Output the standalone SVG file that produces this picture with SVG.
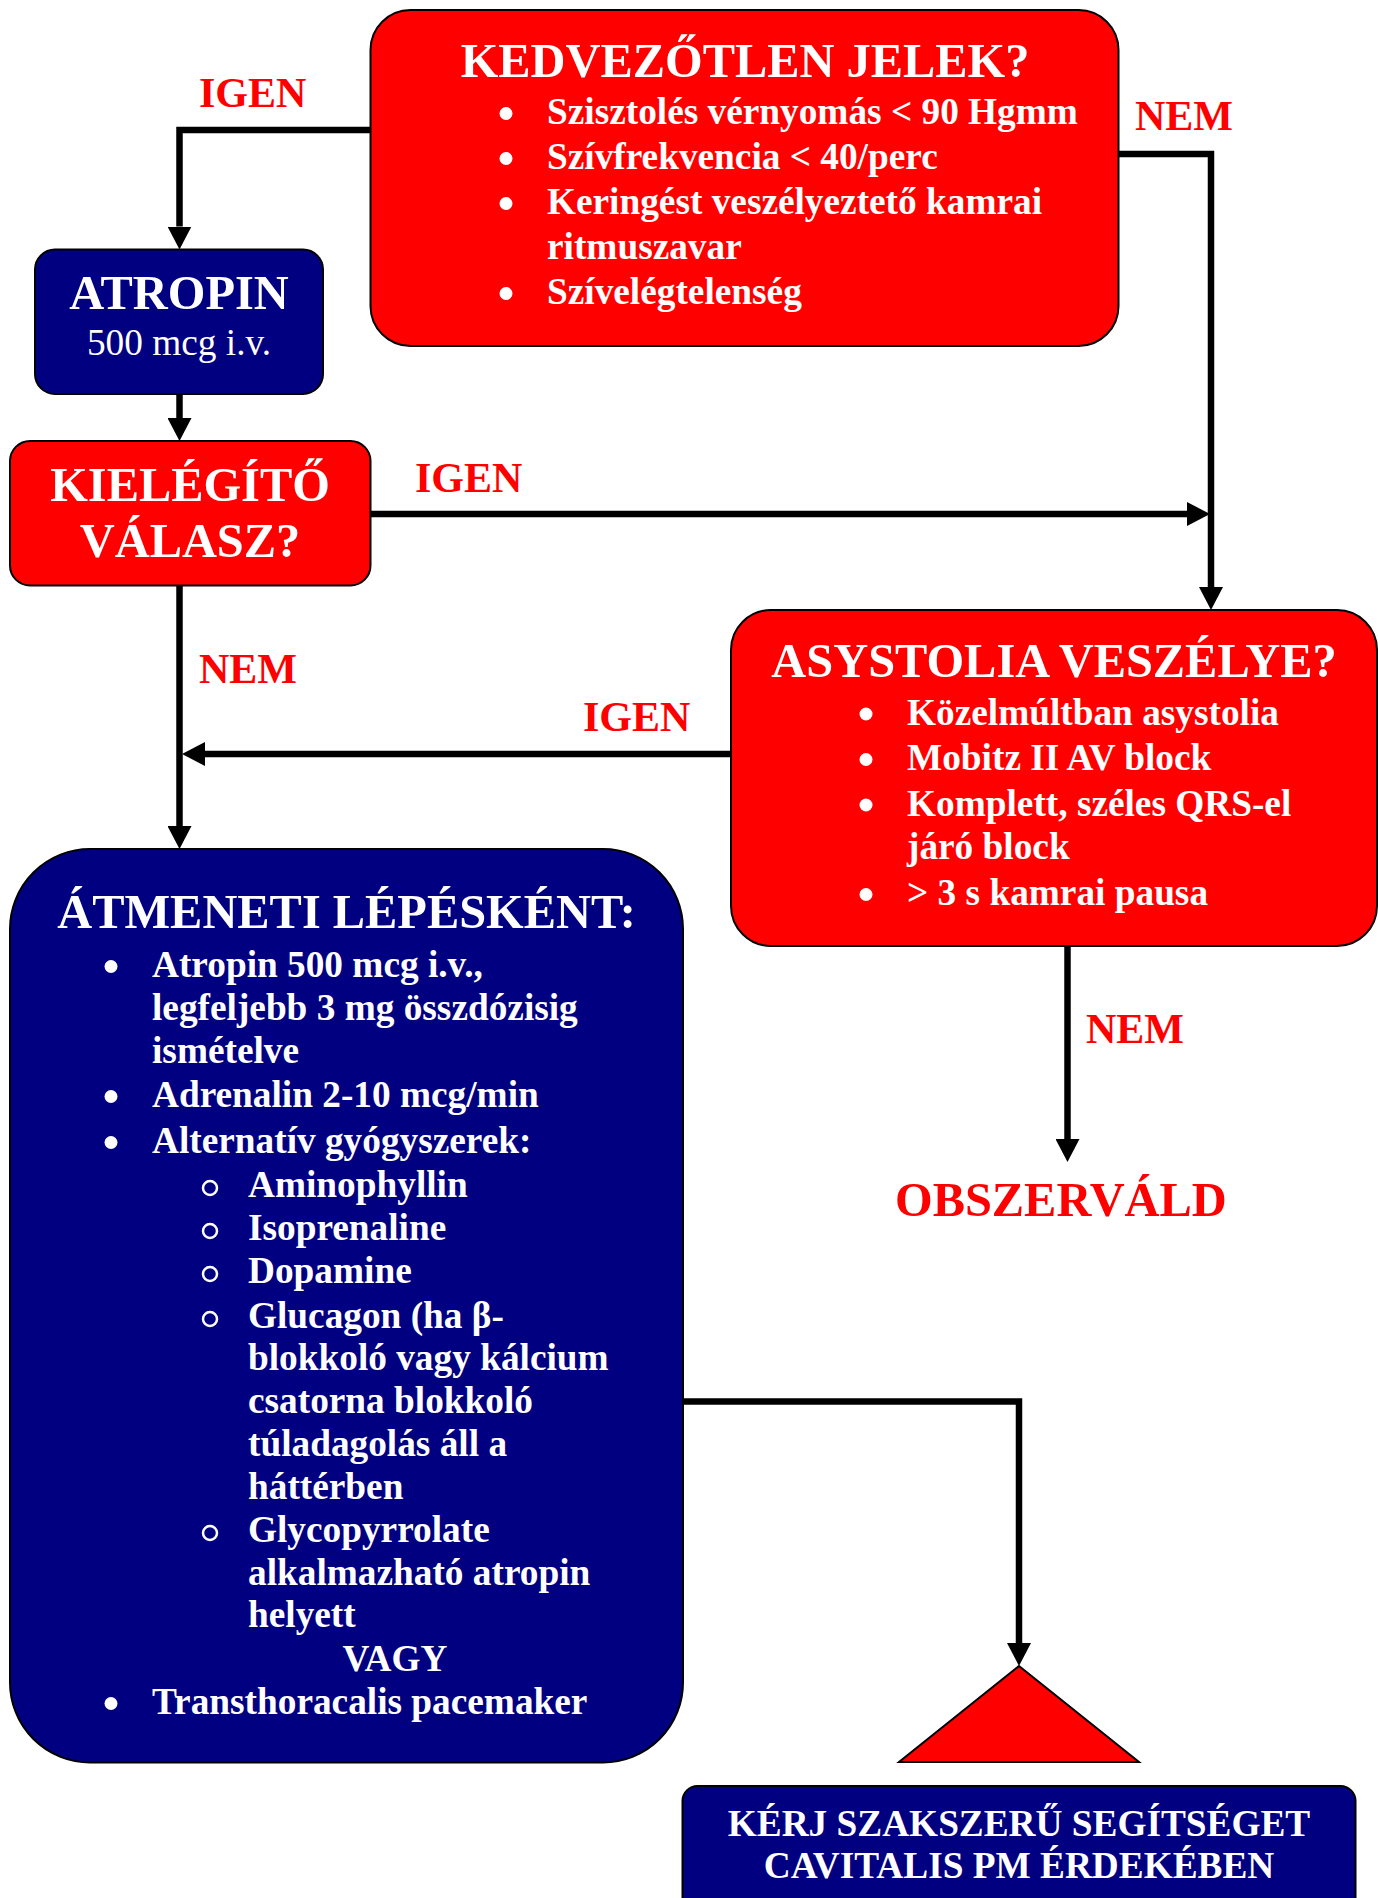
<svg xmlns="http://www.w3.org/2000/svg" width="1378" height="1898" viewBox="0 0 1378 1898">
<style>
.red{fill:#FF0000;stroke:#000;stroke-width:2}
.blue{fill:#000080;stroke:#000;stroke-width:2}
.t{font-family:"Liberation Serif","Times New Roman",serif;font-weight:bold;fill:#fff}
.h{font-size:48.4px;text-anchor:middle}
.b{font-size:37.3px}
.lbl{font-family:"Liberation Serif","Times New Roman",serif;font-weight:bold;fill:#FF0000;font-size:42px}
.dot{fill:#fff}
.odot{fill:none;stroke:#fff;stroke-width:2.5}
.con{fill:none;stroke:#000;stroke-width:6.5;stroke-linejoin:miter;marker-end:url(#ah)}
</style>
<defs>
<marker id="ah" markerUnits="userSpaceOnUse" markerWidth="24" markerHeight="24" refX="0" refY="12" orient="auto" viewBox="0 0 24 24">
<path d="M0,0 L23,12 L0,24 z" fill="#000"/>
</marker>
</defs>
<rect width="1378" height="1898" fill="#fff"/>

<g id="connectors">
<path class="con" d="M370,130 H179.5 V226.5"/>
<path class="con" d="M179.5,394 V418"/>
<path class="con" d="M370.5,514 H1187"/>
<path class="con" d="M1115,154 H1211 V587"/>
<path class="con" d="M179.5,585.5 V826"/>
<path class="con" d="M731,754 H205"/>
<path class="con" d="M1067.5,946 V1139"/>
<path class="con" d="M683,1401.5 H1019 V1643"/>
<text class="lbl" x="199" y="107">IGEN</text>
<text class="lbl" x="1135" y="130">NEM</text>
<text class="lbl" x="415" y="492">IGEN</text>
<text class="lbl" x="199" y="683">NEM</text>
<text class="lbl" x="583" y="731">IGEN</text>
<text class="lbl" x="1086" y="1043">NEM</text>
</g>

<g id="kedvezotlen">
<rect class="red" x="370.5" y="10" width="748" height="336" rx="40"/>
<text class="t h" x="745" y="76.5">KEDVEZŐTLEN JELEK?</text>
<circle class="dot" cx="506" cy="113.5" r="6.5"/>
<circle class="dot" cx="506" cy="158.5" r="6.5"/>
<circle class="dot" cx="506" cy="203.5" r="6.5"/>
<circle class="dot" cx="506" cy="293.5" r="6.5"/>
<text class="t b" x="547" y="124">Szisztolés vérnyomás &lt; 90 Hgmm</text>
<text class="t b" x="547" y="169">Szívfrekvencia &lt; 40/perc</text>
<text class="t b" x="547" y="214">Keringést veszélyeztető kamrai</text>
<text class="t b" x="547" y="259">ritmuszavar</text>
<text class="t b" x="547" y="304">Szívelégtelenség</text>
</g>

<g id="atropin">
<rect class="blue" x="35" y="249.5" width="288" height="144.5" rx="20"/>
<text class="t h" x="179" y="309">ATROPIN</text>
<text x="179" y="355" style="font-family:'Liberation Serif','Times New Roman',serif;font-size:37.3px;fill:#fff;text-anchor:middle">500 mcg i.v.</text>
</g>

<g id="kielegito">
<rect class="red" x="10" y="441" width="360.5" height="144.5" rx="20"/>
<text class="t h" x="190" y="501">KIELÉGÍTŐ</text>
<text class="t h" x="190" y="557">VÁLASZ?</text>
</g>

<g id="asystolia">
<rect class="red" x="731" y="610" width="646" height="336" rx="40"/>
<text class="t h" x="1054" y="677">ASYSTOLIA VESZÉLYE?</text>
<circle class="dot" cx="866" cy="714" r="6.5"/>
<circle class="dot" cx="866" cy="759.5" r="6.5"/>
<circle class="dot" cx="866" cy="805" r="6.5"/>
<circle class="dot" cx="866" cy="894.5" r="6.5"/>
<text class="t b" x="907" y="724.5">Közelmúltban asystolia</text>
<text class="t b" x="907" y="770">Mobitz II AV block</text>
<text class="t b" x="907" y="815.5">Komplett, széles QRS-el</text>
<text class="t b" x="907" y="859">járó block</text>
<text class="t b" x="907" y="905">&gt; 3 s kamrai pausa</text>
</g>

<g id="obszervald">
<text class="lbl" x="895" y="1216" style="font-size:48.4px">OBSZERVÁLD</text>
</g>

<g id="atmeneti">
<rect class="blue" x="10" y="849" width="673" height="913.5" rx="80"/>
<text class="t h" x="346.5" y="928">ÁTMENETI LÉPÉSKÉNT:</text>
<circle class="dot" cx="111" cy="966.5" r="6.5"/>
<circle class="dot" cx="111" cy="1096.5" r="6.5"/>
<circle class="dot" cx="111" cy="1142.5" r="6.5"/>
<circle class="dot" cx="111" cy="1703.5" r="6.5"/>
<circle class="odot" cx="210" cy="1188" r="7"/>
<circle class="odot" cx="210" cy="1231" r="7"/>
<circle class="odot" cx="210" cy="1274" r="7"/>
<circle class="odot" cx="210" cy="1319" r="7"/>
<circle class="odot" cx="210" cy="1533" r="7"/>
<text class="t b" x="152" y="977">Atropin 500 mcg i.v.,</text>
<text class="t b" x="152" y="1020">legfeljebb 3 mg összdózisig</text>
<text class="t b" x="152" y="1063">ismételve</text>
<text class="t b" x="152" y="1107">Adrenalin 2-10 mcg/min</text>
<text class="t b" x="152" y="1153">Alternatív gyógyszerek:</text>
<text class="t b" x="248" y="1197">Aminophyllin</text>
<text class="t b" x="248" y="1240">Isoprenaline</text>
<text class="t b" x="248" y="1283">Dopamine</text>
<text class="t b" x="248" y="1328">Glucagon (ha β-</text>
<text class="t b" x="248" y="1370">blokkoló vagy kálcium</text>
<text class="t b" x="248" y="1413">csatorna blokkoló</text>
<text class="t b" x="248" y="1456">túladagolás áll a</text>
<text class="t b" x="248" y="1499">háttérben</text>
<text class="t b" x="248" y="1542">Glycopyrrolate</text>
<text class="t b" x="248" y="1585">alkalmazható atropin</text>
<text class="t b" x="248" y="1627">helyett</text>
<text class="t b" x="395" y="1671" style="text-anchor:middle">VAGY</text>
<text class="t b" x="152" y="1714">Transthoracalis pacemaker</text>
</g>

<g id="triangle">
<polygon points="1019,1666 1139,1762 899,1762" fill="#FF0000" stroke="#000" stroke-width="2"/>
</g>

<g id="kerj">
<rect class="blue" x="682.5" y="1786" width="673" height="130" rx="15"/>
<text class="t b" x="1019" y="1836" style="text-anchor:middle">KÉRJ SZAKSZERŰ SEGÍTSÉGET</text>
<text class="t b" x="1019" y="1878" style="text-anchor:middle">CAVITALIS PM ÉRDEKÉBEN</text>
</g>
</svg>
